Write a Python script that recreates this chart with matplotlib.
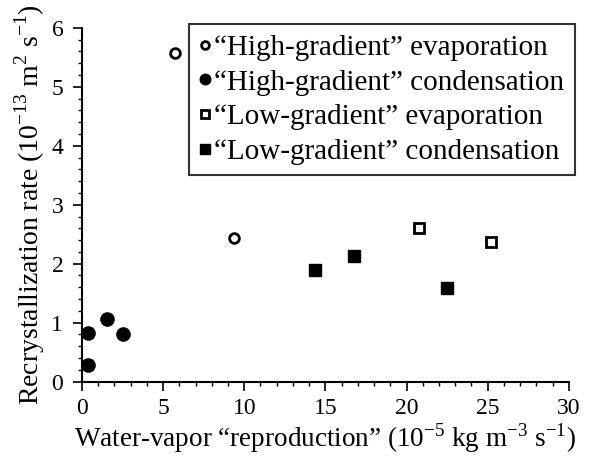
import matplotlib.pyplot as plt
from matplotlib.ticker import MultipleLocator

plt.rcParams['font.family'] = ['Liberation Serif', 'DejaVu Serif']
plt.rcParams['mathtext.fontset'] = 'custom'
plt.rcParams['mathtext.rm'] = 'Liberation Serif'

# data
hi_evap_x = [5.74, 9.34]
hi_evap_y = [5.57, 2.43]
hi_cond_x = [0.35, 0.35, 1.52, 2.5]
hi_cond_y = [0.83, 0.28, 1.06, 0.81]
lo_evap_x = [20.76, 25.2]
lo_evap_y = [2.6, 2.36]
lo_cond_x = [14.38, 16.75, 22.5]
lo_cond_y = [1.89, 2.13, 1.58]

labels = ['\u201cHigh-gradient\u201d evaporation',
          '\u201cHigh-gradient\u201d condensation',
          '\u201cLow-gradient\u201d evaporation',
          '\u201cLow-gradient\u201d condensation']

fig = plt.figure(figsize=(5.9, 4.57), dpi=100)
ax = fig.add_axes([0.139, 0.165, 0.825, 0.774])

ax.plot(hi_evap_x, hi_evap_y, 'o', ms=7, mfc='white', mec='black', mew=2, label=labels[0], clip_on=False)
ax.plot(hi_cond_x, hi_cond_y, 'o', ms=9.5, mfc='black', mec='black', label=labels[1], clip_on=False)
ax.plot(lo_evap_x, lo_evap_y, 's', ms=6.5, mfc='white', mec='black', mew=2, label=labels[2], clip_on=False)
ax.plot(lo_cond_x, lo_cond_y, 's', ms=8.5, mfc='black', mec='black', label=labels[3], clip_on=False)

ax.set_xlim(0, 30)
ax.set_ylim(0, 6)
ax.xaxis.set_major_locator(MultipleLocator(5))
ax.xaxis.set_minor_locator(MultipleLocator(1))
ax.yaxis.set_major_locator(MultipleLocator(1))
ax.yaxis.set_minor_locator(MultipleLocator(0.2))
ax.spines['top'].set_visible(False)
ax.spines['right'].set_visible(False)
ax.spines['left'].set_linewidth(1.5)
ax.spines['bottom'].set_linewidth(1.5)
ax.tick_params(which='major', direction='out', length=6.5, width=1.2, labelsize=17)
ax.tick_params(axis='x', which='major', pad=5)
ax.tick_params(axis='y', which='major', pad=7)
ax.tick_params(which='minor', direction='out', length=3, width=1)

ax.set_xlabel('Water-vapor \u201creproduction\u201d (10$^{-5}$ kg m$^{-3}$ s$^{-1}$)', fontsize=19.5, labelpad=2)
ax.set_ylabel('Recrystallization rate (10$^{-13}$ m$^{2}$ s$^{-1}$)', fontsize=20, labelpad=3)

leg = ax.legend(loc='upper right', bbox_to_anchor=(1.012, 1.01), fontsize=21, frameon=True,
                fancybox=False, edgecolor='black', handlelength=0.35, handletextpad=0.15,
                borderpad=0.35, labelspacing=0.28, markerscale=0.8, borderaxespad=0)
leg.get_frame().set_linewidth(1.5)

fig.savefig('out.png', dpi=100)
